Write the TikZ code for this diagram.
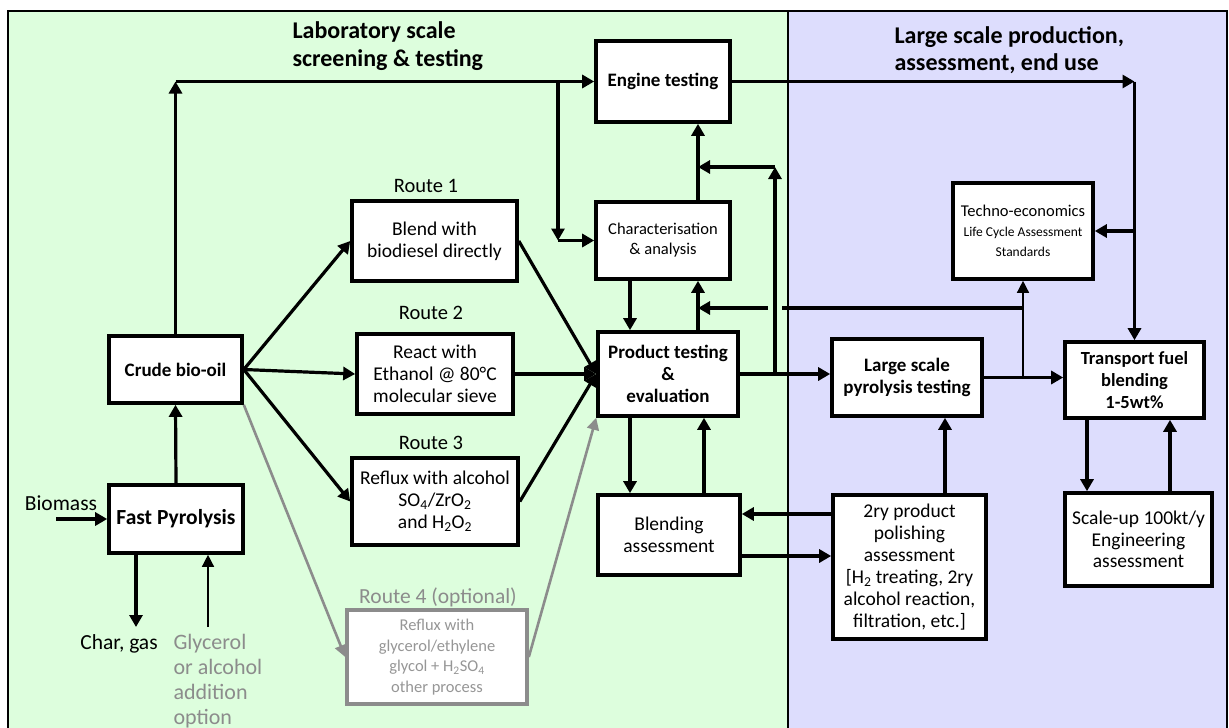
\documentclass[tikz,border=0pt]{standalone}
\usepackage{fontspec}
\setmainfont{Carlito}
\usetikzlibrary{arrows.meta}

\definecolor{labGreen}{RGB}{221,254,221}
\definecolor{largeBlue}{RGB}{221,221,253}
\definecolor{optGray}{RGB}{140,140,140}
\definecolor{optText}{RGB}{150,150,150}

\begin{document}
\begin{tikzpicture}
[x=1pt,y=-1pt,
  boxDecorate/.style={shape=rectangle,draw,line width=3.6pt,fill=white,inner sep=0pt,align=center,font=\fontsize{19.5}{22}\selectfont},%
  boldDecorate/.style={boxDecorate,font=\fontsize{19}{22}\selectfont\bfseries},%
  routeDecorate/.style={font=\fontsize{20.5}{24}\selectfont},%
  lineDecorate/.style={-,line width=3.2pt},%
  arrowDecorate/.style={-{Triangle[length=12pt,width=13pt]},line width=3.2pt},%
  thinDecorate/.style={-{Triangle[length=12pt,width=12pt]},line width=1.4pt},%
  optDecorate/.style={-{Triangle[length=12pt,width=12pt]},line width=2.6pt,draw=optGray}]
\useasboundingbox (0,0) rectangle (1229,728);
%% the two areas
\fill[labGreen] (8,11) rectangle (788,740);
\fill[largeBlue] (788,11) rectangle (1227,740);
\draw[line width=2.8pt] (8,740) -- (8,11) -- (1227,11) -- (1227,740);
\draw[line width=2.8pt] (788,11) -- (788,740);
\node (labTitle) at (289,46) [anchor=west,align=left,font=\fontsize{24}{28}\selectfont\bfseries] {Laboratory scale\\screening \& testing};
\node (largeTitle) at (891,50) [anchor=west,align=left,font=\fontsize{24}{27}\selectfont\bfseries] {Large scale production,\\assessment, end use};
%% nodes or boxes
\node (fast) at (176,519) [boldDecorate,font=\fontsize{21.5}{24}\selectfont\bfseries,minimum width=134pt,minimum height=68pt] {Fast Pyrolysis};
\node (crude) at (175.5,369.5) [boldDecorate,minimum width=133pt,minimum height=67pt] {Crude bio-oil};
\node (route1) at (434.5,241) [boxDecorate,minimum width=165pt,minimum height=80pt] {Blend with\\biodiesel directly};
\node (route2) at (435,374) [boxDecorate,minimum width=156pt,minimum height=80pt] {React with\\Ethanol @ 80°C\\molecular sieve};
\node (route3) at (435,501.5) [boxDecorate,minimum width=166pt,minimum height=87pt] {Reflux with alcohol\\SO\textsubscript{4}/ZrO\textsubscript{2}\\and H\textsubscript{2}O\textsubscript{2}};
\node (route4) at (437,657) [boxDecorate,draw=optGray,text=optText,font=\fontsize{16.5}{20.7}\selectfont,minimum width=180pt,minimum height=94pt] {Reflux with\\glycerol/ethylene\\glycol + H\textsubscript{2}SO\textsubscript{4}\\other process};
\node (engine) at (663,81.5) [boldDecorate,minimum width=134pt,minimum height=81pt] {Engine testing};
\node (charac) at (663,240.5) [boxDecorate,font=\fontsize{16.5}{20}\selectfont,minimum width=134pt,minimum height=77pt] {Characterisation\\\& analysis};
\node (product) at (668,374) [boldDecorate,minimum width=140pt,minimum height=84pt] {Product testing\\\&\\evaluation};
\node (blending) at (669,535) [boxDecorate,minimum width=142pt,minimum height=80pt] {Blending\\assessment};
\node (techno) at (1023,231) [boxDecorate,font=\fontsize{16.5}{20}\selectfont,minimum width=140pt,minimum height=96pt] {Techno-economics\\\fontsize{13.5}{16}\selectfont Life Cycle Assessment\\\fontsize{13.5}{16}\selectfont Standards};
\node (large) at (907,377.5) [boldDecorate,minimum width=150pt,minimum height=77pt] {Large scale\\pyrolysis testing};
\node (polish) at (909.5,567) [boxDecorate,minimum width=153pt,minimum height=144pt] {2ry product\\polishing\\assessment\\{[}H\textsubscript{2} treating, 2ry\\alcohol reaction,\\filtration, etc.{]}};
\node (transport) at (1134.5,380) [boldDecorate,font=\fontsize{18.5}{22}\selectfont\bfseries,minimum width=139pt,minimum height=76pt] {Transport fuel\\blending\\1-5wt\%};
\node (scaleup) at (1138.5,539.5) [boxDecorate,font=\fontsize{19.5}{21.5}\selectfont,minimum width=147pt,minimum height=93pt] {Scale-up 100kt/y\\Engineering\\assessment};
%% labels
\node (route1Label) at (426,186) [routeDecorate] {Route 1};
\node (route2Label) at (431,313) [routeDecorate] {Route 2};
\node (route3Label) at (431,443) [routeDecorate] {Route 3};
\node (route4Label) at (438,597) [routeDecorate,text=optGray,font=\fontsize{21.5}{24}\selectfont] {Route 4 (optional)};
\node (biomassLabel) at (61,503) [font=\fontsize{21.5}{24}\selectfont] {Biomass};
\node (charLabel) at (119,644) [font=\fontsize{21.5}{24}\selectfont] {Char, gas};
\node (glyLabel) at (170,681.5) [anchor=west,align=left,text=optGray,font=\fontsize{22}{25}\selectfont] {Glycerol\\or alcohol\\addition\\option};
%% bend points
\coordinate (bioIn) at (56,519);
\coordinate (charOut) at (136,627);
\coordinate (glyIn) at (208,627);
\coordinate (split) at (558,82);
\coordinate (upx) at (698,0);
\coordinate (downx) at (630,0);
\coordinate (blendUp) at (704,0);
\coordinate (retTop) at (775,167);
\coordinate (retMidR) at (782,308);
\coordinate (retMidL) at (768,308);
\coordinate (polUp) at (945,0);
\coordinate (fbTop) at (0,514);
\coordinate (fbBot) at (0,556);
\coordinate (scaleDown) at (1087,0);
\coordinate (scaleUp) at (1170,0);
%% edges or lines
\draw[arrowDecorate] (bioIn) -- (fast.west);
\draw[arrowDecorate] (fast.south -| charOut) -- (charOut);
\draw[thinDecorate] (glyIn) -- (fast.south -| glyIn);
\draw[arrowDecorate] (fast.north) -- (crude.south);
\path
\foreach \startnode/\endnode in {
  crude.east/route1.west, crude.east/route2.west, crude.east/route3.west,
  route1.east/product.west, route2.east/product.west, route3.east/product.west}
{
  (\startnode) edge[arrowDecorate] (\endnode)
};
\path (crude.south east) edge[optDecorate] (route4.west)
      (route4.east) edge[optDecorate] (product.south west);
\draw[arrowDecorate] (crude.north) -- (crude.north |- engine.west);
\draw[arrowDecorate] (crude.north |- engine.west) -- (engine.west);
\draw[arrowDecorate] (split) -- (split |- charac.west);
\draw[arrowDecorate] (split |- charac.west) -- (charac.west);
\draw[arrowDecorate] (engine.east) -- (transport.north |- engine.east);
\draw[arrowDecorate] (transport.north |- engine.east) -- (transport.north);
\draw[arrowDecorate] (transport.north |- techno.east) -- (techno.east);
\draw[arrowDecorate] (charac.north -| upx) -- (engine.south -| upx);
\draw[arrowDecorate] (product.north -| upx) -- (charac.south -| upx);
\draw[arrowDecorate] (charac.south -| downx) -- (product.north -| downx);
\draw[arrowDecorate] (product.south -| downx) -- (blending.north -| downx);
\draw[arrowDecorate] (blending.north -| blendUp) -- (product.south -| blendUp);
\draw[arrowDecorate] (product.east) -- (product.east -| large.west);
\draw[arrowDecorate] (product.east -| retTop) -- (retTop);
\draw[arrowDecorate] (retTop) -- (retTop -| upx);
\draw[lineDecorate] (techno.south |- retMidR) -- (retMidR);
\draw[arrowDecorate] (retMidL) -- (retMidL -| upx);
\draw[thinDecorate] (techno.south |- large.east) -- (techno.south);
\draw[arrowDecorate] (large.east) -- (large.east -| transport.west);
\draw[arrowDecorate] (polish.north -| polUp) -- (large.south -| polUp);
\draw[arrowDecorate] (polish.west |- fbTop) -- (blending.east |- fbTop);
\draw[arrowDecorate] (blending.east |- fbBot) -- (polish.west |- fbBot);
\draw[arrowDecorate] (transport.south -| scaleDown) -- (scaleup.north -| scaleDown);
\draw[arrowDecorate] (scaleup.north -| scaleUp) -- (transport.south -| scaleUp);
\end{tikzpicture}
\end{document}
